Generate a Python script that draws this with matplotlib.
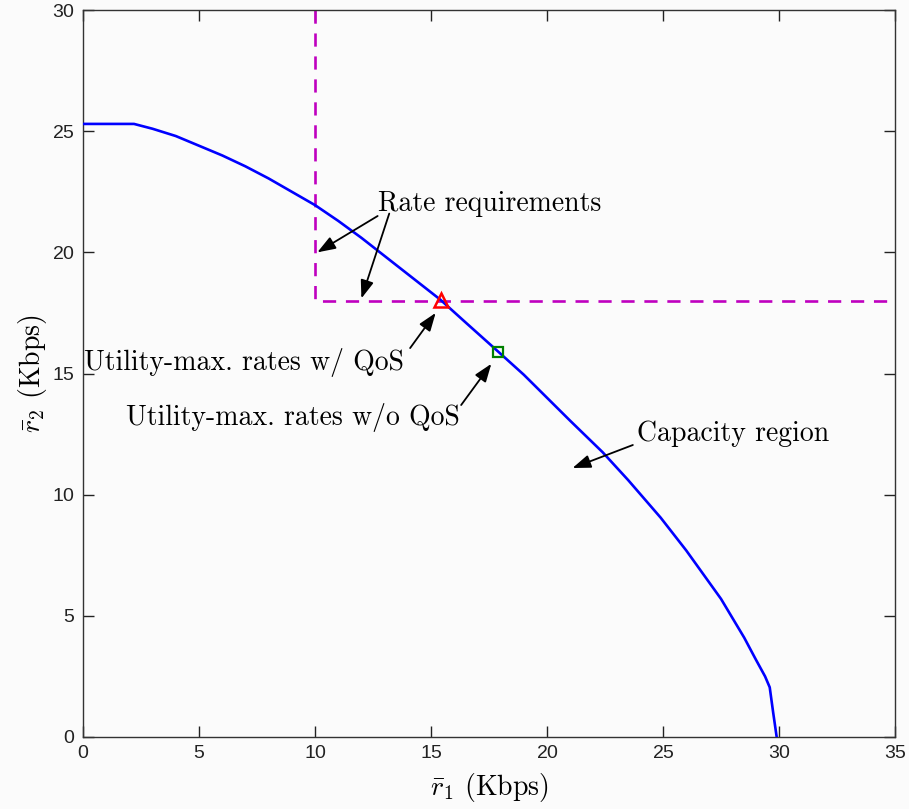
import numpy as np
import matplotlib
matplotlib.use("Agg")
import matplotlib.pyplot as plt

# capacity region boundary
cap_r1 = [0.0, 1.0, 2.2, 3.0, 4.0, 5.0, 6.0, 7.0, 8.0, 9.0, 10.0, 11.0, 12.0, 13.0, 14.0,
          15.4, 16.5, 17.9, 19.0, 20.0, 21.0, 22.4, 23.5, 24.9, 26.0, 27.5, 28.5, 29.0,
          29.4, 29.6, 29.75, 29.9]
cap_r2 = [25.3, 25.3, 25.3, 25.1, 24.8, 24.4, 24.0, 23.55, 23.05, 22.5, 21.95, 21.3,
          20.6, 19.85, 19.1, 18.05, 17.1, 15.9, 14.95, 14.0, 13.05, 11.75, 10.6, 9.05, 7.7,
          5.7, 4.1, 3.2, 2.5, 2.05, 1.0, 0.0]

# rate requirements
req_r1 = 10.0
req_r2 = 18.0

qos_pt = (15.45, 18.05)
noqos_pt = (17.9, 15.9)

plt.rcParams['mathtext.fontset'] = 'cm'
plt.rcParams['axes.formatter.use_mathtext'] = True

fig = plt.figure(figsize=(9.09, 8.09), dpi=100, facecolor='#fbfbfb')
ax = fig.add_axes([0.0913, 0.089, 0.8933, 0.8986])
ax.set_facecolor('#fbfbfb')

ax.plot(cap_r1, cap_r2, color='#0000ff', lw=1.9, zorder=3)
ax.plot([req_r1, req_r1, 35], [30, req_r2, req_r2], color='#bf00bf', lw=1.9,
        ls=(0, (5, 3.7)), zorder=2)
ax.plot(*qos_pt, marker='^', ms=10, mfc='none', mec='red', mew=1.8, zorder=4)
ax.plot(*noqos_pt, marker='s', ms=7.5, mfc='none', mec='green', mew=1.6, zorder=4)

ax.set_xlim(0, 35)
ax.set_ylim(0, 30)
ax.set_xticks(np.arange(0, 36, 5))
ax.set_yticks(np.arange(0, 31, 5))
ax.tick_params(direction='in', length=8, width=1, top=True, right=True,
               labelsize=14, pad=6, colors='#222222')
for lbl in ax.get_xticklabels() + ax.get_yticklabels():
    lbl.set_fontfamily('Liberation Sans')
for sp in ax.spines.values():
    sp.set_linewidth(1.0)
    sp.set_color('#333333')

txt = dict(fontsize=20, family='cmr10')
ax.set_xlabel(r'$\bar{r}_1$ (Kbps)', fontsize=20, family='cmr10', labelpad=6)
ax.set_ylabel(r'$\bar{r}_2$ (Kbps)', fontsize=20, family='cmr10', labelpad=2)

arr = dict(arrowstyle='-|>,head_length=1.1,head_width=0.4', color='black', lw=1.3,
           shrinkA=0, shrinkB=0)

ax.text(12.7, 22.0, 'Rate requirements', va='center', ha='left', **txt)
ax.annotate('', xy=(10.1, 20.0), xytext=(12.7, 21.5), arrowprops=arr)
ax.annotate('', xy=(12.0, 18.1), xytext=(13.2, 21.6), arrowprops=arr)

ax.text(0.05, 15.45, 'Utility-max. rates w/ QoS', va='center', ha='left', **txt)
ax.annotate('', xy=(15.2, 17.5), xytext=(14.1, 16.05), arrowprops=arr)

ax.text(1.85, 13.2, 'Utility-max. rates w/o QoS', va='center', ha='left', **txt)
ax.annotate('', xy=(17.6, 15.4), xytext=(16.3, 13.7), arrowprops=arr)

ax.text(23.9, 12.5, 'Capacity region', va='center', ha='left', **txt)
ax.annotate('', xy=(21.1, 11.1), xytext=(23.7, 12.05), arrowprops=arr)

fig.savefig('out.png', dpi=100, facecolor=fig.get_facecolor())
